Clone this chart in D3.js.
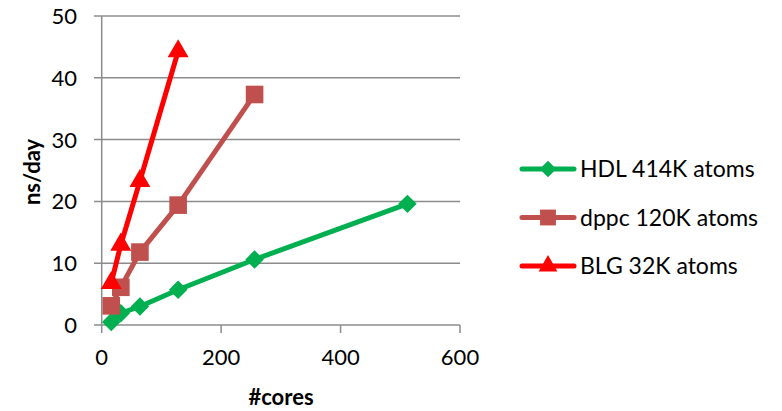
<!DOCTYPE html>
<html><head><meta charset="utf-8">
<script src="https://cdn.jsdelivr.net/npm/d3@7"></script>
<style>body{margin:0;background:#fff;} text{font-family:Lato,"Open Sans",sans-serif;}</style>
</head><body><svg id="c" width="782" height="411"></svg>
<script>
const cores = [16, 32, 64, 128, 256, 512];
const hdl = [0.5, 1.9, 3.0, 5.7, 10.6, 19.6];
const dppcCores = [16, 32, 64, 128, 256];
const dppc = [3.1, 6.1, 11.8, 19.4, 37.3];
const blgCores = [16, 32, 64, 128];
const blg = [6.8, 13.0, 23.3, 44.3];
const xTicks = [0, 200, 400, 600];
const yTicks = [0, 10, 20, 30, 40, 50];
const seriesNames = ["HDL 414K atoms", "dppc 120K atoms", "BLG 32K atoms"];
const colors = ["#00B050", "#C0504D", "#FF0000"];

const series = [
  {name: seriesNames[0], xs: cores, ys: hdl, color: colors[0], shape: "diamond"},
  {name: seriesNames[1], xs: dppcCores, ys: dppc, color: colors[1], shape: "square"},
  {name: seriesNames[2], xs: blgCores, ys: blg, color: colors[2], shape: "triangle"}
];

function marker(shape, scale) {
  if (shape === "diamond") return {d: d3.symbol(d3.symbolSquare, 170 * scale * scale)(), rot: 45};
  if (shape === "square") return {d: d3.symbol(d3.symbolSquare, 310 * scale * scale)(), rot: 0};
  return {d: d3.symbol(d3.symbolTriangle, 190 * scale * scale)(), rot: 0};
}

const svg = d3.select("#c");
const x = d3.scaleLinear().domain([0, 600]).range([101.7, 460]);
const y = d3.scaleLinear().domain([0, 50]).range([325, 16]);

svg.append("g").selectAll("line").data(yTicks).join("line")
  .attr("x1", 94).attr("x2", 460)
  .attr("y1", d => y(d)).attr("y2", d => y(d))
  .attr("stroke", "#8c8c8c").attr("stroke-width", 1.5);
svg.append("line").attr("x1", x(0)).attr("x2", x(0)).attr("y1", y(50)).attr("y2", y(0))
  .attr("stroke", "#8c8c8c").attr("stroke-width", 1.5);
svg.append("g").selectAll("line").data(xTicks).join("line")
  .attr("x1", d => x(d)).attr("x2", d => x(d)).attr("y1", y(0)).attr("y2", y(0) + 8)
  .attr("stroke", "#8c8c8c").attr("stroke-width", 1.5);

svg.append("g").selectAll("text").data(yTicks).join("text")
  .attr("x", 77).attr("y", d => y(d)).attr("dy", "0.36em").attr("text-anchor", "end")
  .attr("font-size", 22).attr("fill", "#000").text(d => d);
svg.append("g").selectAll("text").data(xTicks).join("text")
  .attr("x", d => x(d)).attr("y", 365).attr("text-anchor", "middle")
  .attr("font-size", 22).attr("fill", "#000").text(d => d);

svg.append("text").attr("x", 281).attr("y", 405).attr("text-anchor", "middle")
  .attr("font-size", 22).attr("font-weight", "bold").text("#cores");
svg.append("text").attr("transform", "translate(40,172) rotate(-90)").attr("text-anchor", "middle")
  .attr("font-size", 22).attr("font-weight", "bold").text("ns/day");

const line = d3.line().x(d => x(d[0])).y(d => y(d[1]));
series.forEach(s => {
  const pts = s.xs.map((v, i) => [v, s.ys[i]]);
  const g = svg.append("g");
  g.append("path").attr("d", line(pts)).attr("fill", "none")
    .attr("stroke", s.color).attr("stroke-width", 5).attr("stroke-linejoin", "round");
  const m = marker(s.shape, 1);
  g.selectAll("path.m").data(pts).join("path").attr("class", "m")
    .attr("d", m.d)
    .attr("transform", d => `translate(${x(d[0])},${y(d[1])}) rotate(${m.rot})`)
    .attr("fill", s.color);
});

const lg = svg.append("g");
series.forEach((s, i) => {
  const ly = 169 + i * 48.5;
  lg.append("line").attr("x1", 522).attr("x2", 574).attr("y1", ly).attr("y2", ly)
    .attr("stroke", s.color).attr("stroke-width", 5).attr("stroke-linecap", "round");
  const m = marker(s.shape, 0.9);
  lg.append("path").attr("d", m.d)
    .attr("transform", `translate(548,${ly}) rotate(${m.rot})`).attr("fill", s.color);
  lg.append("text").attr("x", 580).attr("y", ly).attr("dy", "0.36em")
    .attr("font-size", 23).attr("fill", "#000").text(s.name);
});
</script></body></html>
